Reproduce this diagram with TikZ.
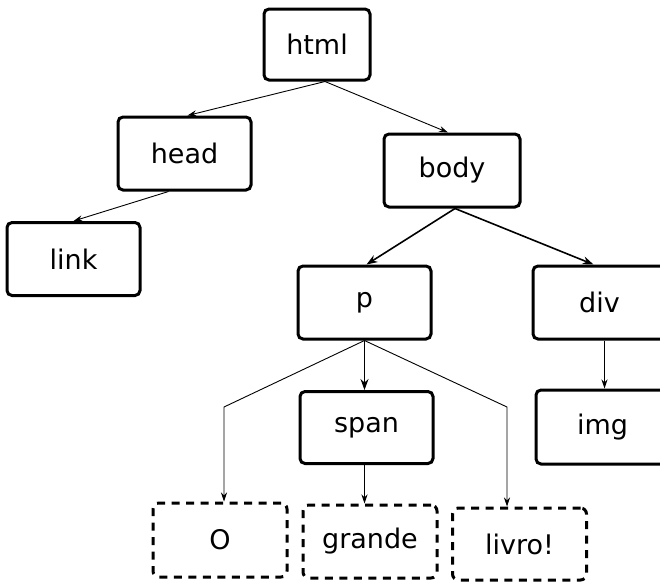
\documentclass[tikz,border=0pt]{standalone}
\usepackage{fontspec}
\setmainfont{DejaVu Sans}
\usetikzlibrary{positioning,arrows.meta}

\tikzset{
	tag/.style={draw, line width=3pt, rounded corners=5pt, minimum width=133pt, minimum height=73pt, inner sep=0pt, font=\fontsize{27}{32}\selectfont},
	txt/.style={tag, dashed, dash pattern=on 8pt off 6.5pt, rounded corners=6pt},
	arr/.style={-{Stealth[length=9pt,width=6pt]}, line width=0.9pt},
	arrb/.style={arr, line width=1.6pt, -{Stealth[length=11pt,width=8pt]}}
}

\begin{document}
\begin{tikzpicture}[x=1pt,y=-1pt]
			\useasboundingbox (0,0) rectangle (660,582);
			\node[tag, minimum width=106pt, minimum height=71pt] (html) at (317,44.5) {html};
			\node[tag] (head) at (184.5,153.5) {head};
			\node[tag] (link) at (73.5,259) {link};
			\node[tag, minimum width=136pt] (body) at (452,170.5) {body};
			\node[tag] (p) at (364.5,302.5) {p};
			\node[tag] (div) at (599.5,302.5) {div};
			\node[tag, minimum height=72pt] (span) at (366.5,427.5) {span};
			\node[tag, minimum height=74pt] (img) at (602.5,427) {img};
			\node[txt, minimum width=134pt, minimum height=74pt] (O) at (220,540) {O};
			\node[txt, minimum width=134pt] (grande) at (370,541.5) {grande};
			\node[txt, minimum width=134pt, minimum height=72pt] (livro) at (519.5,544) {livro!};
			
			\coordinate (kO) at (224,407);
			\coordinate (kl) at (507,407);
			
			\begin{scope}[arr]
			\draw ([xshift=8pt]html.south) -- ([xshift=3pt]head.north);
			\draw ([xshift=8pt]html.south) -- ([xshift=-4pt]body.north);
			\draw ([xshift=-16pt]head.south) -- (link.north);
			\draw (p.south) -- (kO) -- (kO |- O.north);
			\draw (p.south) -- (kl) -- (kl |- livro.north);
			\draw ([xshift=-2pt]span.south) -- ([xshift=-5.5pt]grande.north);
			\draw ([xshift=5pt]div.south) -- ([xshift=2pt]img.north);
			\end{scope}
			
			\begin{scope}[arrb]
			\draw ([xshift=3pt]body.south) -- ([xshift=2pt]p.north);
			\draw ([xshift=3pt]body.south) -- ([xshift=-6pt]div.north);
			\draw (p.south) -- ([xshift=-2pt]span.north);
			\end{scope}
\end{tikzpicture}
\end{document}
